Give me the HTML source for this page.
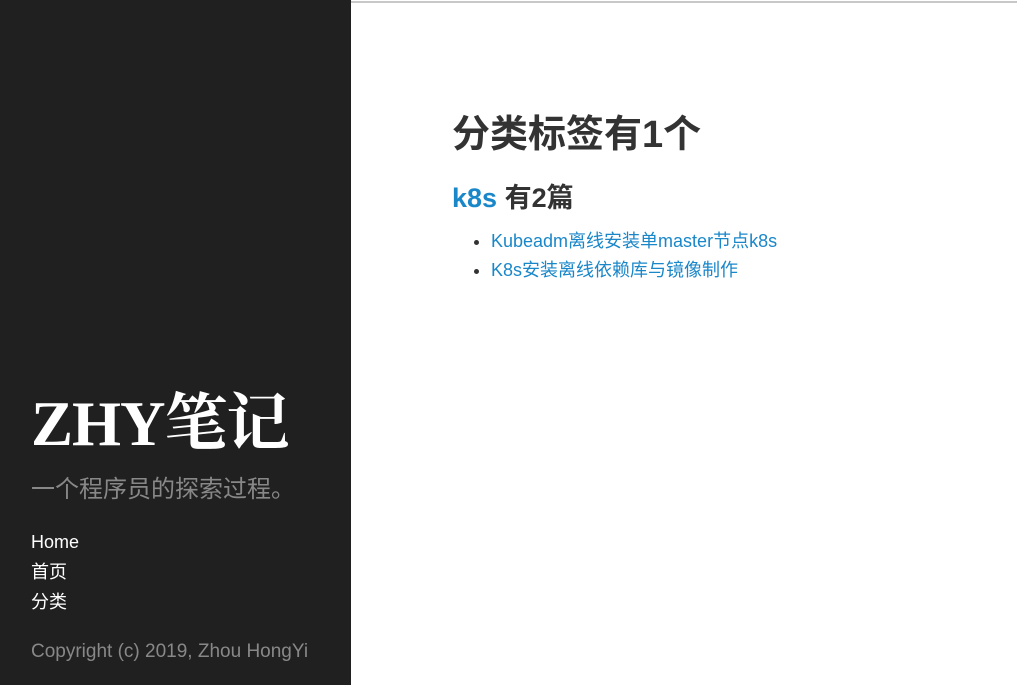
<!DOCTYPE html>
<html><head><meta charset="utf-8"><style>
html,body{margin:0;padding:0;width:1017px;height:685px;overflow:hidden;background:#fff;font-family:"Liberation Sans","Noto Sans CJK SC",sans-serif}
#topline{position:absolute;left:0;top:1px;width:1017px;height:2px;background:#c8c8c8}
#side{position:absolute;left:0;top:0;width:351px;height:685px;background:#202020}
.abs{position:absolute;white-space:nowrap;margin:0}
#title{left:31px;top:386px;font-family:"Liberation Serif","Noto Serif CJK SC",serif;font-weight:bold;font-size:63px;line-height:76px;color:#fff;letter-spacing:-1px}
#sub{left:31px;top:474px;font-size:24px;line-height:32px;color:#888}
.nav{left:31px;font-size:18px;line-height:24px;color:#fff;text-decoration:none}
#copy{left:31px;top:640px;font-size:19px;line-height:24px;color:#888}
#h1{left:452px;top:110px;font-size:38px;line-height:50px;font-weight:bold;color:#333}
#h2{left:452px;top:179px;font-size:27px;line-height:38px;font-weight:bold;color:#333}
#h2 a{color:#1a87c9;text-decoration:none}
ul{position:absolute;left:452px;top:227px;margin:0;padding:0 0 0 39px;color:#333;font-size:18px;line-height:29px}
ul a{color:#1a87c9;text-decoration:none}
</style></head><body>
<div id="topline"></div>
<div id="side">
<h1 class="abs" id="title">ZHY笔记</h1>
<div class="abs" id="sub">一个程序员的探索过程。</div>
<a class="abs nav" style="top:530px">Home</a>
<a class="abs nav" style="top:560px">首页</a>
<a class="abs nav" style="top:590px">分类</a>
<div class="abs" id="copy">Copyright (c) 2019, Zhou HongYi</div>
</div>
<h1 class="abs" id="h1">分类标签有1个</h1>
<h2 class="abs" id="h2"><a>k8s</a> 有2篇</h2>
<ul>
<li><a>Kubeadm离线安装单master节点k8s</a></li>
<li><a>K8s安装离线依赖库与镜像制作</a></li>
</ul>
</body></html>
